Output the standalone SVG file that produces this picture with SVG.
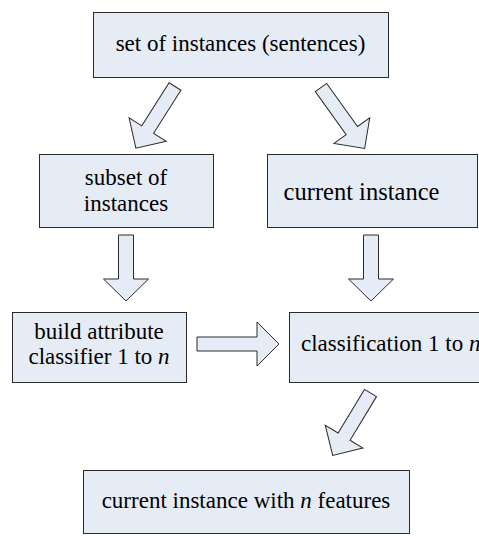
<svg xmlns="http://www.w3.org/2000/svg" width="479" height="536" viewBox="0 0 479 536">
<style>
.box{fill:#e6ecf6;stroke:#2a2a2a;stroke-width:1}
.arr{fill:#e6ecf6;stroke:#2a2a2a;stroke-width:1;stroke-linejoin:miter}
.t{font-family:'Liberation Serif',serif;font-size:23px;fill:#000000}
.c{text-anchor:middle}
</style>
<rect width="479" height="536" fill="#ffffff"/>
<g id="connectors">
<polygon class="arr" points="0,-7 51,-7 51,-22 73,0 51,22 51,7 0,7" transform="translate(175,86.5) rotate(122.4)"/>
<polygon class="arr" points="0,-7 53,-7 53,-22 75,0 53,22 53,7 0,7" transform="translate(321,87.5) rotate(54.4)"/>
<polygon class="arr" points="118.5,235 133.5,235 133.5,279 148.5,279 126,301 103.5,279 118.5,279"/>
<polygon class="arr" points="363.5,235 378.5,235 378.5,279 393.5,279 371,301 348.5,279 363.5,279"/>
<polygon class="arr" points="197,337 257,337 257,322 279,344 257,366 257,351 197,351"/>
<polygon class="arr" points="0,-7 51,-7 51,-22 73,0 51,22 51,7 0,7" transform="translate(370.5,393) rotate(121.2)"/>
</g>
<g id="n1"><rect class="box" x="93.5" y="12.5" width="295" height="65"/><text class="t c" x="240.5" y="51">set of instances (sentences)</text></g>
<g id="n2"><rect class="box" x="39.5" y="154.5" width="174" height="73"/><text class="t c" x="126" y="185">subset of</text><text class="t c" x="126" y="211">instances</text></g>
<g id="n3"><rect class="box" x="267.5" y="154.5" width="210" height="73"/><text class="t c" x="361.5" y="200" style="font-size:24.5px">current instance</text></g>
<g id="n4"><rect class="box" x="12.5" y="312.5" width="174" height="70"/><text class="t c" x="99" y="339">build attribute</text><text class="t c" x="99" y="364">classifier 1 to <tspan font-style="italic">n</tspan></text></g>
<g id="n5"><rect class="box" x="289.5" y="312.5" width="200" height="70"/><text class="t" x="301" y="351">classification 1 to <tspan font-style="italic">n</tspan></text></g>
<g id="n6"><rect class="box" x="83.5" y="470.5" width="326" height="63"/><text class="t c" x="246" y="508">current instance with <tspan font-style="italic">n</tspan> features</text></g>
</svg>
